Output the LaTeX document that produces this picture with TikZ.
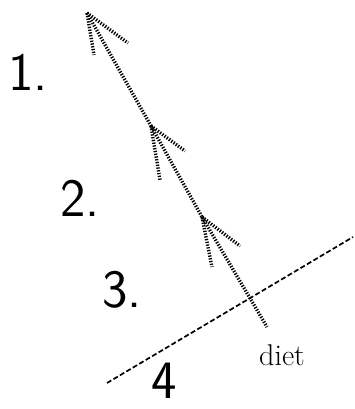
\documentclass[tikz,border=0pt]{standalone}
\usepackage{tikz}

\tikzset{
  hatch/.style={line width=3.4pt, dash pattern=on 1.3pt off 1.5pt},
  slash/.style={line width=1.7pt, dash pattern=on 5pt off 2.5pt},
  numlabel/.style={font=\fontsize{54}{54}\selectfont\sffamily},
}

\begin{document}
\begin{tikzpicture}[x=1pt, y=-1pt]

\useasboundingbox (0,0) rectangle (354,409);

% ── Main line with its three heads ──
\coordinate (top) at (87,13);
\coordinate (mid) at (151,126);
\coordinate (low) at (202,217);
\coordinate (end) at (267,327);
\draw[hatch] (top) -- (mid) -- (low) -- (end);

\foreach \tip/\bx/\by/\cx/\cy in {top/128/43/94/55, mid/185/151/160/180, low/240/246/212/267} {
    \draw[hatch] (\tip) -- (\bx,\by);
    \draw[hatch] (\tip) -- (\cx,\cy);
}

% ── Crossing line ──
\coordinate (cross-a) at (107,383);
\coordinate (cross-b) at (353,237);
\draw[slash] (cross-a) -- (cross-b);

% ── Labels ──
\node[numlabel] (one) at (28,72) {1.};
\node[numlabel] (two) at (80,198) {2.};
\node[numlabel] (three) at (122,290) {3.};
\node[numlabel, anchor=base, inner sep=0pt] (four) at (164,398) {4};
\node[font=\fontsize{30}{30}\selectfont] (diet) at (282,355) {diet};

\end{tikzpicture}
\end{document}
